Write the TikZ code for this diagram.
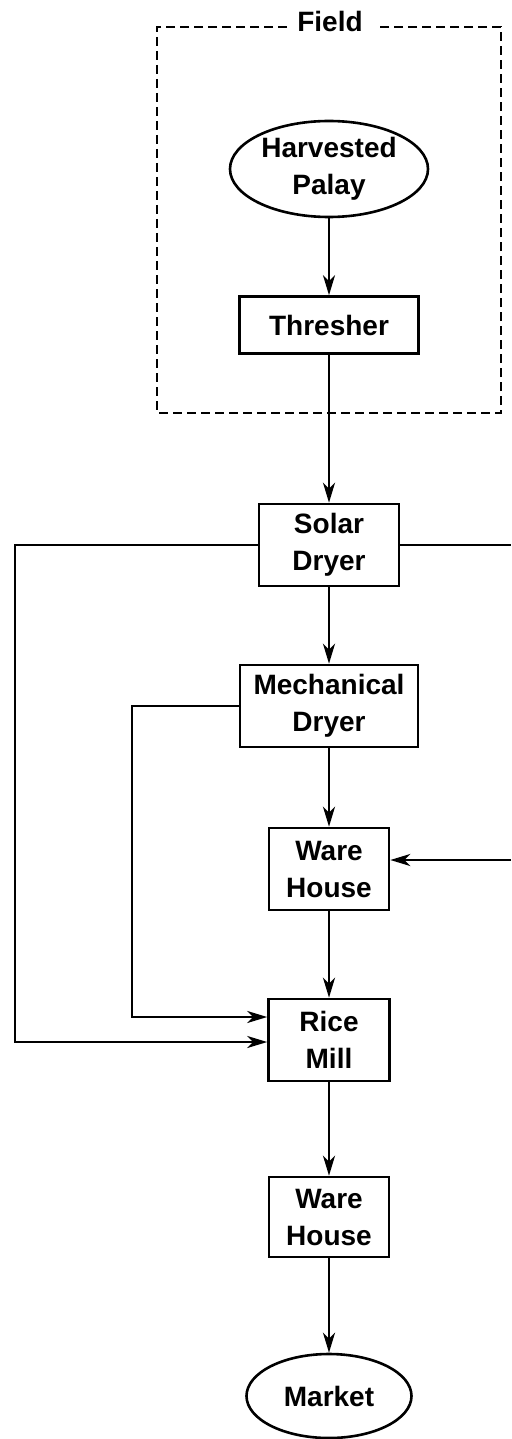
\documentclass[tikz,border=0pt]{standalone}
\usepackage{fontspec}
\setmainfont{Liberation Sans}
\usepackage{tikz}
\usetikzlibrary{positioning, arrows.meta, shapes.geometric}

\begin{document}
\begin{tikzpicture}[
        x=1pt, y=1pt,
        >={Stealth[length=20pt, width=12pt, inset=6pt]},
        on grid,
        line width=2.6pt,
        every node/.style={font=\fontsize{28}{37}\selectfont\bfseries, align=center},
        unit/.style={draw, rectangle, inner sep=0pt, minimum height=82pt},
        endpoint/.style={draw, ellipse, inner sep=0pt},
        fieldline/.style={dash pattern=on 9pt off 5pt, line width=2.8pt}
    ]
        \useasboundingbox (0,0) rectangle (511,-1439);

        % field
        \node (field) at (330,-21) {Field};
        \draw[fieldline] (287,-27) -- (157,-27) -- (157,-413) -- (501,-413) -- (501,-27) -- (377,-27);

        \node[endpoint, minimum width=198pt, minimum height=96pt] (palay) at (329,-169) {Harvested\\Palay};
        \node[unit, minimum width=179pt, minimum height=57pt, below=156pt of palay] (thresher) {Thresher};
        \node[unit, minimum width=140pt, below=220pt of thresher] (solar) {Solar\\Dryer};
        \node[unit, minimum width=178pt, below=161pt of solar] (mech) {Mechanical\\Dryer};
        \node[unit, minimum width=120pt, below=163pt of mech] (ware1) {Ware\\House};
        \node[unit, minimum width=121pt, below=171pt of ware1] (mill) {Rice\\Mill};
        \node[unit, minimum width=120pt, minimum height=80pt, below=177pt of mill] (ware2) {Ware\\House};
        \node[endpoint, minimum width=165pt, minimum height=84pt, below=179pt of ware2] (market) {Market};

        \coordinate (outl) at (15,0);
        \coordinate (inl) at (132,0);
        \coordinate (redge) at (511,0);

        \path[->]
        (palay) edge (thresher)
        (thresher) edge (solar)
        (solar) edge (mech)
        (mech) edge (ware1)
        (ware1) edge (mill)
        (mill) edge (ware2)
        (ware2) edge (market);

        \draw[->] (solar.west) -| ([yshift=-2pt]mill.west -| outl) -- ([yshift=-2pt]mill.west);
        \draw[->] (mech.west) -| ([yshift=23pt]mill.west -| inl) -- ([yshift=23pt]mill.west);
        \draw (solar.east) -- (solar.east -| redge);
        \draw[->] ([yshift=9pt]ware1.east -| redge) -- ([yshift=9pt]ware1.east);
\end{tikzpicture}
\end{document}
